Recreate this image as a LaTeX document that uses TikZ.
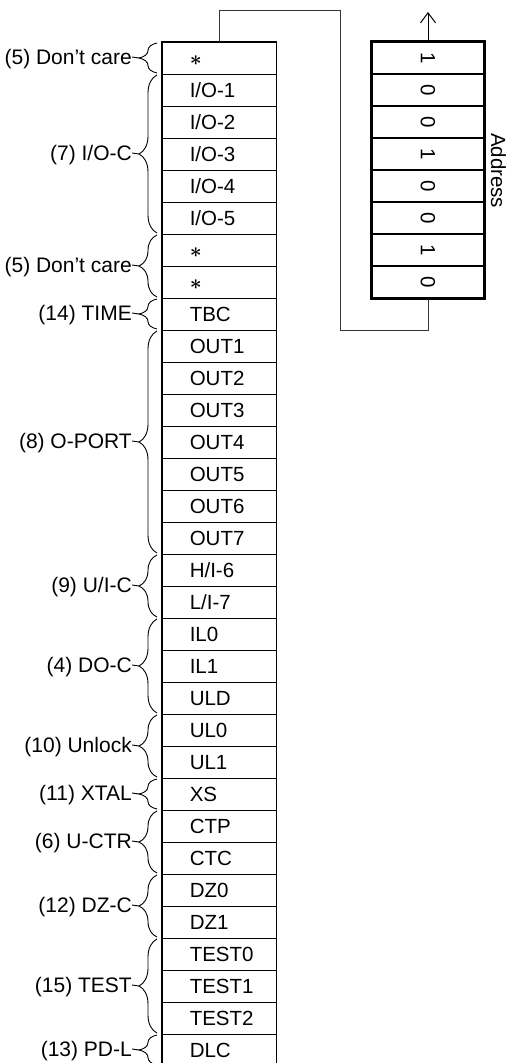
\documentclass[tikz,border=0pt]{standalone}
\usepackage{amsmath}
\usepackage{fontspec}
\setmainfont{Liberation Sans}
\usetikzlibrary{decorations.pathreplacing,arrows.meta}

\tikzset{
  regfont/.style={font=\fontsize{20.5}{24}\selectfont},
  regcell/.style={draw,line width=0.9pt,minimum width=114pt,minimum height=32pt,inner sep=0pt},
  regtext/.style={regfont,anchor=west,inner sep=0pt,text height=14.7pt,text depth=0pt},
  addrcell/.style={draw,line width=1.3pt,minimum width=112pt,minimum height=32pt,inner sep=0pt},
  grpbrace/.style={decorate,decoration={brace,amplitude=18pt},line width=0.9pt},
  grplabel/.style={font=\fontsize{21}{24}\selectfont,anchor=east,inner sep=0pt,text height=15pt,text depth=0pt},
  wire/.style={line width=1pt,black!80},
}

\begin{document}
\begin{tikzpicture}[x=1pt,y=-1pt]
\useasboundingbox (0,0) rectangle (517,1063);
% register column
\foreach \txt [count=\i from 0] in {$\boldsymbol{\ast}$,{I/O-1},{I/O-2},{I/O-3},{I/O-4},{I/O-5},$\boldsymbol{\ast}$,$\boldsymbol{\ast}$,
    TBC,OUT1,OUT2,OUT3,OUT4,OUT5,OUT6,OUT7,{H/I-6},{L/I-7},IL0,IL1,ULD,UL0,UL1,XS,
    CTP,CTC,DZ0,DZ1,TEST0,TEST1,TEST2,DLC} {
  \node[regcell] (r\i) at (219,58+32*\i) {};
  \node[regtext] (t\i) at ([xshift=28pt]r\i.west) {\txt};
}
\draw[line width=1.6pt] (r0.north west) rectangle (r31.south east);

% address register
\foreach \bit [count=\j from 0] in {1,0,0,1,0,0,1,0} {
  \node[addrcell] (a\j) at (428,58+32*\j) {};
  \node[regfont,rotate=-90,inner sep=0pt] (b\j) at (a\j.center) {\bit};
}
\draw[line width=1.8pt] (a0.north west) rectangle (a7.south east);
\node[regfont,rotate=-90,anchor=south,inner sep=0pt] (addr) at ([xshift=6pt]a3.south east) {Address};

% shift path
\coordinate (addrout) at (428,12);
\draw[line width=1pt,-{Straight Barb[length=10pt,width=15pt]}] (a0.north) -- (addrout);
\draw[wire] (a7.south) -- (428,330) -| (340,10) -| (r0.north);

% field braces
\foreach \lbl/\ra/\rb [count=\k] in {{(5) Don’t care}/0/0,{(7) I/O-C}/1/5,{(5) Don’t care}/6/7,
    {(14) TIME}/8/8,{(8) O-PORT}/9/15,{(9) U/I-C}/16/17,{(4) DO-C}/18/20,{(10) Unlock}/21/22,
    {(11) XTAL}/23/23,{(6) U-CTR}/24/25,{(12) DZ-C}/26/27,{(15) TEST}/28/30,{(13) PD-L}/31/31} {
  \pgfmathsetmacro\ytop{42+32*\ra+1}
  \pgfmathsetmacro\ybot{42+32*(\rb+1)-1}
  \pgfmathsetmacro\ymid{(\ytop+\ybot)/2}
  \draw[grpbrace] (157,\ybot) -- (157,\ytop);
  \coordinate (tip\k) at (139,\ymid);
  \node[grplabel] (g\k) at (132,\ymid-1) {\lbl};
  \draw[line width=0.9pt] (g\k.east) -- (tip\k);
}
\end{tikzpicture}
\end{document}
